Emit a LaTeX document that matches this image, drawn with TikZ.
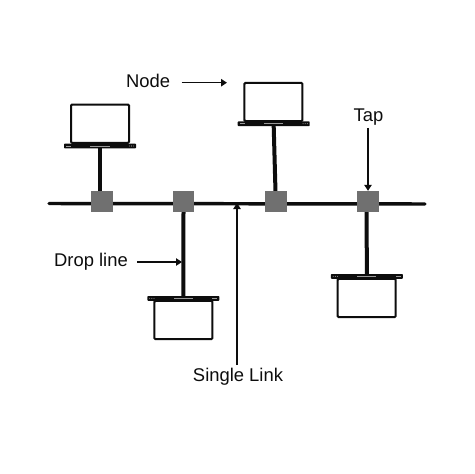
\documentclass[tikz,border=0pt]{standalone}
\usepackage{fontspec}
\setmainfont{Liberation Sans}
\usetikzlibrary{arrows.meta}
\pgfdeclarelayer{back}
\pgfsetlayers{back,main}
\definecolor{ink}{HTML}{0D0D0D}
\definecolor{tapgray}{HTML}{707070}
\definecolor{detail}{HTML}{9A9A9A}
\tikzset{
  x=0.75pt,y=-0.75pt,
  tapbox/.style={fill=tapgray,draw=none,minimum width=16.2pt,minimum height=16pt,inner sep=0pt,outer sep=0pt},
  screenbox/.style={draw=ink,fill=white,line width=1.5pt,rounded corners=0.8pt,minimum width=43.5pt,minimum height=28.7pt,inner sep=0pt,outer sep=0pt},
  basebox/.style={fill=ink,draw=none,rounded corners=0.6pt,minimum width=54pt,minimum height=3.6pt,inner sep=0pt,outer sep=0pt},
  lbl/.style={font=\fontsize{13.8}{16}\selectfont,text=ink,inner sep=0pt,outer sep=0pt},
  busline/.style={line width=2.6pt,draw=ink,line cap=round},
  dropline/.style={line width=3pt,draw=ink},
  callout/.style={line width=1.2pt,draw=ink,-{Triangle[length=4.5pt,width=5.5pt]}},
}
\newcommand{\laptopmarks}[2]{% base node name, 1 = dots on right / -1 = dots on left
  \fill[detail] ([xshift=-7.2pt,yshift=0.25pt]#1.center) rectangle ([xshift=7.2pt,yshift=-0.25pt]#1.center);
  \fill[detail] ([xshift=#2*22pt]#1.center) circle (0.4pt);
  \fill[detail] ([xshift=#2*23.6pt]#1.center) circle (0.4pt);
  \fill[detail] ([xshift=#2*25.2pt]#1.center) circle (0.4pt);
  \fill[detail] ([xshift=-#2*25.4pt,yshift=-0.25pt]#1.center) rectangle ([xshift=-#2*21.6pt,yshift=0.25pt]#1.center);
}
\begin{document}
\begin{tikzpicture}
\useasboundingbox (0,0) rectangle (474,474);
% taps
\node[tapbox] (t1) at (102,201.5) {};
\node[tapbox] (t2) at (183.5,201.5) {};
\node[tapbox] (t3) at (276,201.5) {};
\node[tapbox] (t4) at (368,201.5) {};
% laptops
\node[screenbox] (s1) at (100,123.7) {};
\node[basebox] (b1) at (100,146) {};
\laptopmarks{b1}{1}
\node[screenbox] (s2) at (273.4,102) {};
\node[basebox] (b2) at (273.7,123.7) {};
\laptopmarks{b2}{1}
\node[screenbox] (s3) at (183.4,320) {};
\node[basebox] (b3) at (183.3,298.4) {};
\laptopmarks{b3}{-1}
\node[screenbox] (s4) at (366.7,298) {};
\node[basebox] (b4) at (366.8,276.4) {};
\laptopmarks{b4}{-1}
% labels
\node[lbl] (lnode) at (148,80.5) {Node};
\node[lbl] (ltap) at (368.5,117) {Tap};
\node[lbl] (ldrop) at (91,261.5) {Drop line};
\node[lbl] (llink) at (238,376.5) {Single Link};
\coordinate (busL) at (49,203.5);
\coordinate (busR) at (425,204);
\coordinate (aNodeS) at (181.7,82.7);
\coordinate (aNode) at (227,82.7);
\coordinate (aDropS) at (137,262);
\coordinate (aDrop) at (182,262);
\coordinate (aTapS) at (368,128);
\coordinate (aLink) at (237,203);
\coordinate (aLinkS) at (237,365);
\begin{pgfonlayer}{back}
  \fill[white] (0,0) rectangle (474,474);
  \draw[busline] (busL) -- (busR);
  \draw[dropline] (b1.south) -- (b1.south |- t1.north);
  \draw[dropline] (b2.south) -- ([xshift=-0.4pt]t3.north);
  \draw[dropline] (t2.south) -- (b3.north);
  \draw[dropline] ([xshift=-1pt]t4.south) -- (b4.north);
\end{pgfonlayer}
\draw[callout] (aNodeS) -- (aNode);
\draw[callout] (aTapS) -- (t4.north);
\draw[callout] (aDropS) -- (aDrop);
\draw[callout] (aLinkS) -- (aLink);
\end{tikzpicture}
\end{document}
